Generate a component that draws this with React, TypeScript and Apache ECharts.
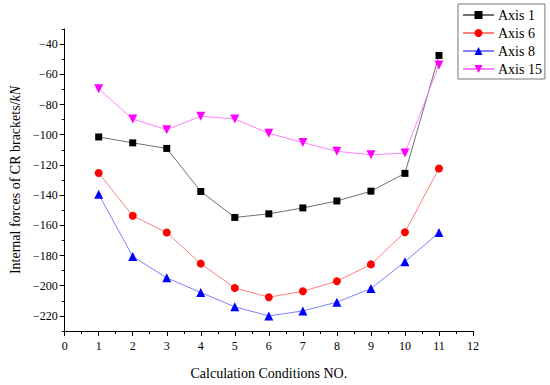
import React, { useEffect, useRef } from "react";
import * as echarts from "echarts";

const conditions = [1, 2, 3, 4, 5, 6, 7, 8, 9, 10, 11];
const axis1 = [-101.5, -105.4, -109.1, -137.6, -154.8, -152.4, -148.5, -143.9, -137.4, -125.6, -47.5];
const axis6 = [-125.4, -153.7, -164.8, -185.4, -201.5, -207.6, -203.7, -197.0, -185.9, -164.6, -122.4];
const axis8 = [-139.5, -180.6, -194.8, -204.5, -214.0, -220.0, -216.7, -210.9, -201.9, -184.1, -164.8];
const axis15 = [-69.6, -89.6, -96.7, -87.8, -89.6, -99.1, -105.2, -111.0, -113.3, -112.2, -53.8];
const yLabelValues = [-220, -200, -180, -160, -140, -120, -100, -80, -60, -40];

const FONT = "Liberation Serif";

export default function App() {
  const ref = useRef<HTMLDivElement>(null);
  useEffect(() => {
    const chart = echarts.init(ref.current!, null, { renderer: "svg" });
    const mk = (name: string, data: number[], color: string, lineColor: string, symbol: string, size: number, rotate = 0) => ({
      name,
      type: "line",
      data: conditions.map((c, i) => [c, data[i]]),
      symbol,
      symbolSize: size,
      symbolRotate: rotate,
      itemStyle: { color },
      lineStyle: { color: lineColor, width: 1 },
      z: 3,
    });
    chart.setOption({
      animation: false,
      backgroundColor: "#fff",
      textStyle: { fontFamily: FONT },
      grid: { left: 61, right: 77, top: 29, bottom: 50, containLabel: false },
      legend: {
        orient: "vertical",
        left: 458,
        top: 4,
        itemWidth: 31,
        itemHeight: 10,
        itemGap: 4,
        padding: [4, 3, 3, 4],
        borderColor: "#777",
        borderWidth: 1,
        textStyle: { fontFamily: FONT, fontSize: 14, color: "#000", padding: [0, 0, 0, -1] },
        data: ["Axis 1", "Axis 6", "Axis 8", "Axis 15"],
      },
      xAxis: {
        type: "value",
        min: 0,
        max: 12,
        interval: 1,
        name: "Calculation Conditions NO.",
        nameLocation: "middle",
        nameGap: 35,
        nameTextStyle: { fontFamily: FONT, fontSize: 14, color: "#000" },
        axisLine: { show: true, onZero: false, lineStyle: { color: "#000", width: 1 } },
        axisTick: { show: true, inside: false, length: 5, lineStyle: { color: "#000" } },
        minorTick: { show: true, splitNumber: 2, length: 3, lineStyle: { color: "#000" } },
        axisLabel: { fontFamily: FONT, fontSize: 12, color: "#000", margin: 9 },
        splitLine: { show: false },
      },
      yAxis: [
        {
          type: "value",
          min: -230,
          max: -30,
          name: "Internal forces of CR brackets/{i|kN}",
          nameLocation: "middle",
          nameGap: 41,
          nameTextStyle: {
            fontFamily: FONT,
            fontSize: 14,
            color: "#000",
            rich: { i: { fontFamily: FONT, fontSize: 14, fontStyle: "italic", color: "#000" } },
          },
          axisLine: { show: true, onZero: false, lineStyle: { color: "#000", width: 1 } },
          axisTick: { show: true, inside: false, length: 5, customValues: yLabelValues, lineStyle: { color: "#000" } },
          axisLabel: {
            fontFamily: FONT,
            fontSize: 12,
            color: "#000",
            margin: 7,
            customValues: yLabelValues,
            formatter: (v: number) => (v < 0 ? "\u2212" + Math.abs(v) : String(v)),
          },
          splitLine: { show: false },
        },
        {
          type: "value",
          min: -230,
          max: -30,
          interval: 10,
          position: "left",
          axisLine: { show: false, onZero: false },
          axisTick: { show: true, inside: false, length: 3, lineStyle: { color: "#000" } },
          axisLabel: { show: false },
          splitLine: { show: false },
        },
      ],
      series: [
        mk("Axis 1", axis1, "#000000", "#707070", "rect", 7),
        mk("Axis 6", axis6, "#ff0000", "#ff8080", "circle", 8),
        mk("Axis 8", axis8, "#0000ff", "#8080ff", "triangle", 9),
        mk("Axis 15", axis15, "#ff00ff", "#ff80ff", "triangle", 9, 180),
      ],
    });
    return () => chart.dispose();
  }, []);
  return (
    <div style={{ position: "absolute", left: 0, top: 0 }}>
      <div ref={ref} style={{ width: 550, height: 385 }} />
    </div>
  );
}
